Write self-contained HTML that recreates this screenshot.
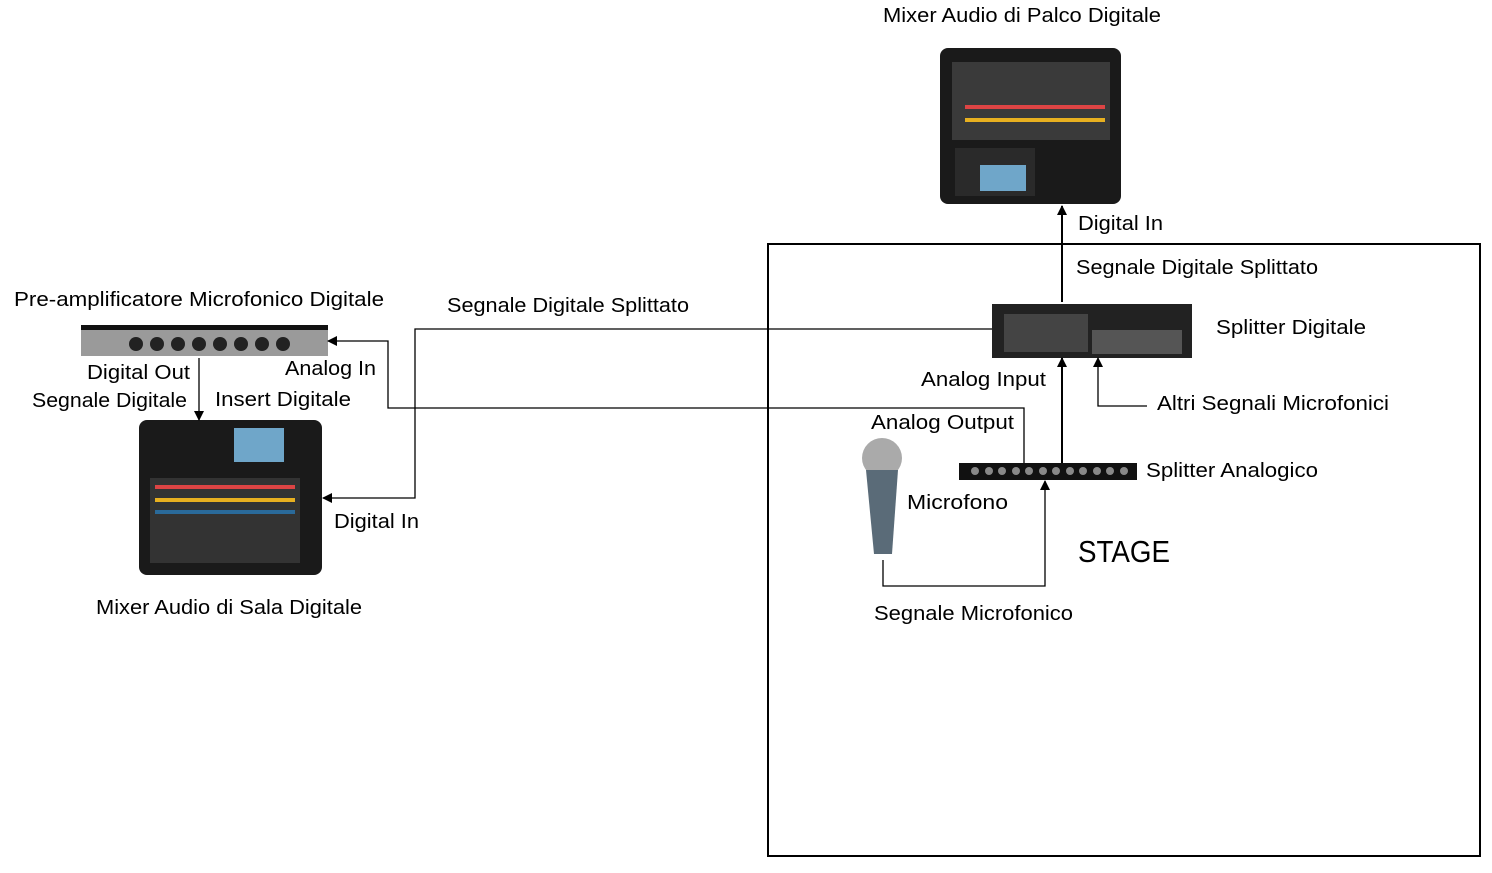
<!DOCTYPE html>
<html><head><meta charset="utf-8"><style>
html,body{margin:0;padding:0;background:#fff;}
svg text{font-family:"Liberation Sans",sans-serif;font-size:20px;fill:#000;}
</style></head><body>
<svg width="1492" height="868" viewBox="0 0 1492 868" xmlns="http://www.w3.org/2000/svg">
<defs><marker id="a" markerWidth="10" markerHeight="10" refX="9" refY="5" orient="auto" markerUnits="userSpaceOnUse"><path d="M0,0 L10,5 L0,10 z" fill="#000"/></marker></defs>
<rect x="768" y="244" width="712" height="612" fill="none" stroke="#000" stroke-width="2"/>
<!-- top mixer -->
<rect x="940" y="48" width="181" height="156" rx="8" fill="#1a1a1a"/>
<rect x="952" y="62" width="158" height="78" fill="#3a3a3a"/>
<g fill="#d44"><rect x="965" y="105" width="140" height="4"/></g>
<g fill="#e8b020"><rect x="965" y="118" width="140" height="4"/></g>
<rect x="955" y="148" width="80" height="48" fill="#2a2a2a"/>
<rect x="980" y="165" width="46" height="26" fill="#6fa6c9"/>
<!-- splitter digitale -->
<rect x="992" y="304" width="200" height="54" fill="#222"/>
<rect x="1004" y="314" width="84" height="38" fill="#444"/>
<rect x="1092" y="330" width="90" height="24" fill="#555"/>
<!-- splitter analog -->
<rect x="959" y="463" width="178" height="17" fill="#111"/>
<g fill="#888"><circle cx="975" cy="471" r="4"/><circle cx="989" cy="471" r="4"/><circle cx="1002" cy="471" r="4"/><circle cx="1016" cy="471" r="4"/><circle cx="1029" cy="471" r="4"/><circle cx="1043" cy="471" r="4"/><circle cx="1056" cy="471" r="4"/><circle cx="1070" cy="471" r="4"/><circle cx="1083" cy="471" r="4"/><circle cx="1097" cy="471" r="4"/><circle cx="1110" cy="471" r="4"/><circle cx="1124" cy="471" r="4"/></g>
<!-- mic -->
<ellipse cx="882" cy="458" rx="20" ry="20" fill="#aaa"/>
<path d="M866,470 L898,470 L892,554 L874,554 Z" fill="#5a6b78"/>
<!-- preamp -->
<rect x="81" y="325" width="247" height="31" fill="#9a9a9a"/>
<rect x="81" y="325" width="247" height="5" fill="#111"/>
<g fill="#222"><circle cx="136" cy="344" r="7"/><circle cx="157" cy="344" r="7"/><circle cx="178" cy="344" r="7"/><circle cx="199" cy="344" r="7"/><circle cx="220" cy="344" r="7"/><circle cx="241" cy="344" r="7"/><circle cx="262" cy="344" r="7"/><circle cx="283" cy="344" r="7"/></g>
<!-- sala mixer -->
<rect x="139" y="420" width="183" height="155" rx="8" fill="#1a1a1a"/>
<rect x="234" y="428" width="50" height="34" fill="#6fa6c9"/>
<rect x="150" y="478" width="150" height="85" fill="#333"/>
<g><rect x="155" y="485" width="140" height="4" fill="#d44"/><rect x="155" y="498" width="140" height="4" fill="#e8b020"/><rect x="155" y="510" width="140" height="4" fill="#2a6a9a"/></g>
<!-- connectors -->
<g fill="none" stroke="#000" stroke-width="1.3">
<path d="M1062,302 L1062,206" stroke-width="2" marker-end="url(#a)"/>
<path d="M992,329 L415,329 L415,498 L323,498" marker-end="url(#a)"/>
<path d="M1024,463 L1024,408 L388,408 L388,341 L328,341" marker-end="url(#a)"/>
<path d="M1062,463 L1062,358" stroke-width="2" marker-end="url(#a)"/>
<path d="M1147,406 L1098,406 L1098,358" marker-end="url(#a)"/>
<path d="M883,560 L883,586 L1045,586 L1045,481" marker-end="url(#a)"/>
<path d="M199,358 L199,420" marker-end="url(#a)"/>
</g>
<g lengthAdjust="spacingAndGlyphs">
<text x="883" y="22" textLength="278" lengthAdjust="spacingAndGlyphs">Mixer Audio di Palco Digitale</text>
<text x="1078" y="230" textLength="85" lengthAdjust="spacingAndGlyphs">Digital In</text>
<text x="1076" y="274" textLength="242" lengthAdjust="spacingAndGlyphs">Segnale Digitale Splittato</text>
<text x="1216" y="334" textLength="150" lengthAdjust="spacingAndGlyphs">Splitter Digitale</text>
<text x="921" y="386" textLength="125" lengthAdjust="spacingAndGlyphs">Analog Input</text>
<text x="1157" y="410" textLength="232" lengthAdjust="spacingAndGlyphs">Altri Segnali Microfonici</text>
<text x="871" y="429" textLength="143" lengthAdjust="spacingAndGlyphs">Analog Output</text>
<text x="1146" y="477" textLength="172" lengthAdjust="spacingAndGlyphs">Splitter Analogico</text>
<text x="907" y="509" textLength="101" lengthAdjust="spacingAndGlyphs">Microfono</text>
<text x="1078" y="562" style="font-size:31px" textLength="92" lengthAdjust="spacingAndGlyphs">STAGE</text>
<text x="874" y="620" textLength="199" lengthAdjust="spacingAndGlyphs">Segnale Microfonico</text>
<text x="14" y="306" textLength="370" lengthAdjust="spacingAndGlyphs">Pre-amplificatore Microfonico Digitale</text>
<text x="447" y="312" textLength="242" lengthAdjust="spacingAndGlyphs">Segnale Digitale Splittato</text>
<text x="87" y="379" textLength="103" lengthAdjust="spacingAndGlyphs">Digital Out</text>
<text x="285" y="375" textLength="91" lengthAdjust="spacingAndGlyphs">Analog In</text>
<text x="32" y="407" textLength="155" lengthAdjust="spacingAndGlyphs">Segnale Digitale</text>
<text x="215" y="406" textLength="136" lengthAdjust="spacingAndGlyphs">Insert Digitale</text>
<text x="334" y="528" textLength="85" lengthAdjust="spacingAndGlyphs">Digital In</text>
<text x="96" y="614" textLength="266" lengthAdjust="spacingAndGlyphs">Mixer Audio di Sala Digitale</text>
</g>
</svg>
</body></html>
